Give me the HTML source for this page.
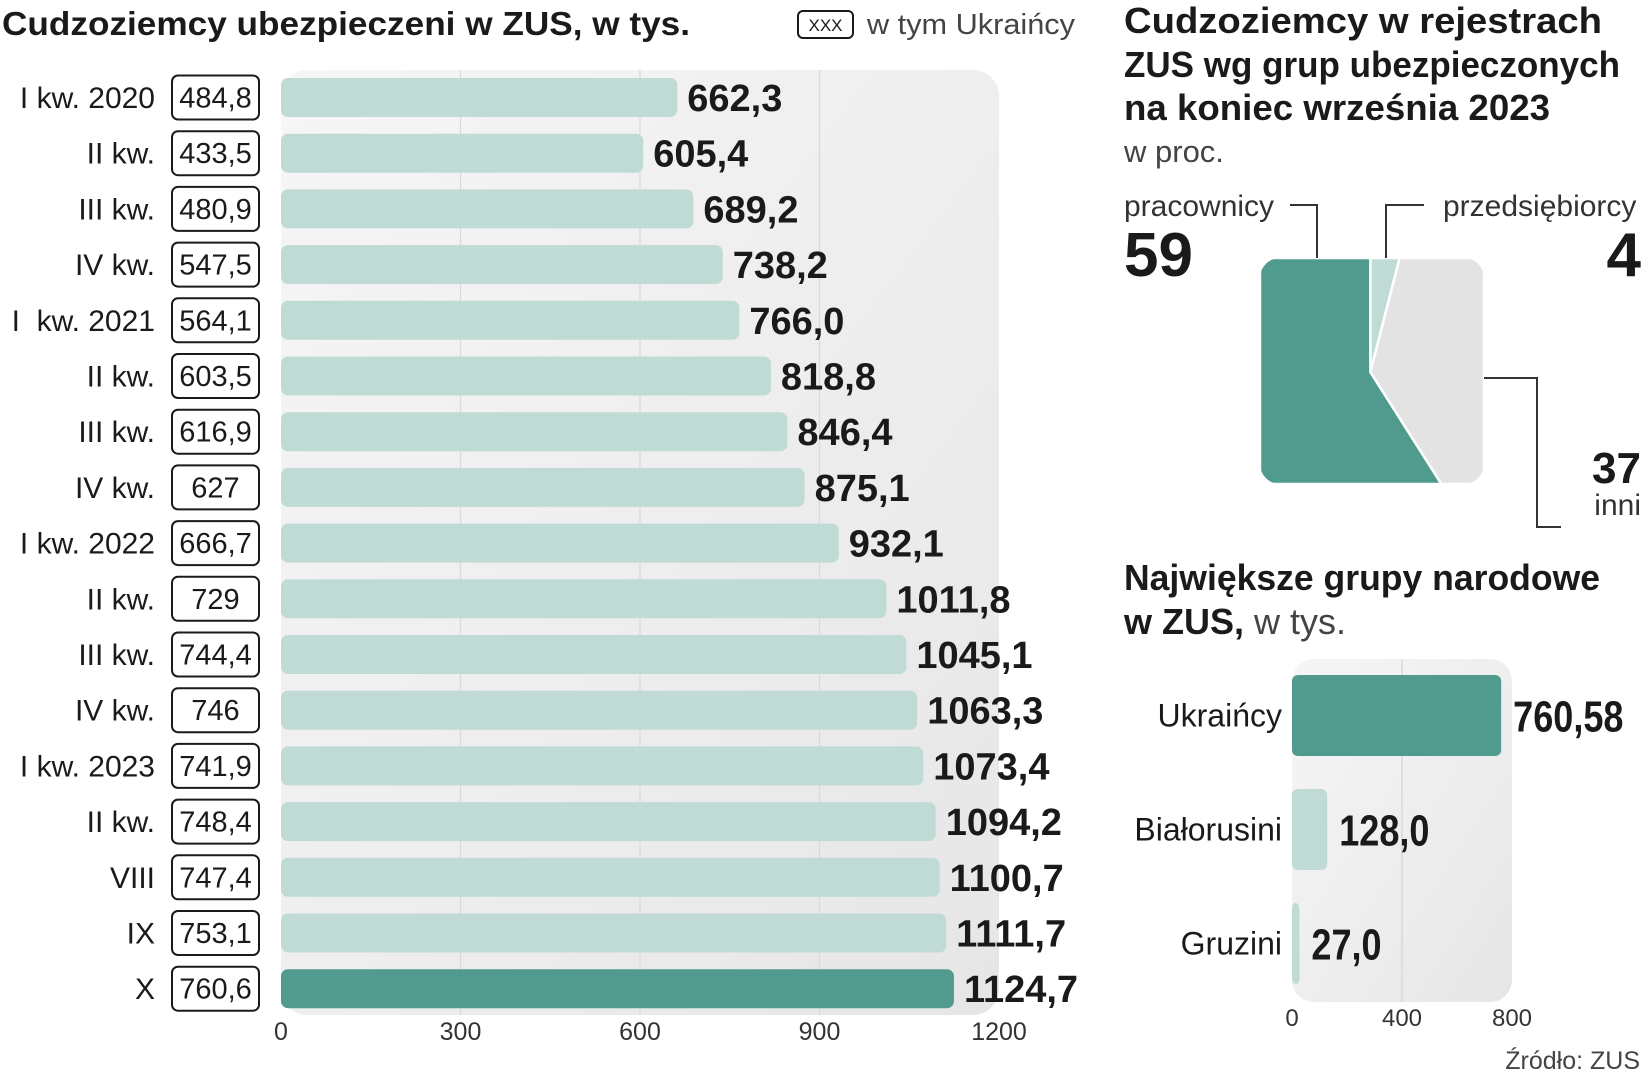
<!DOCTYPE html>
<html><head><meta charset="utf-8">
<style>
html,body{margin:0;padding:0;background:#fff;}
svg{display:block;font-family:"Liberation Sans Narrow","Liberation Sans",sans-serif;}
</style></head>
<body>
<svg id="chart" width="1641" height="1080" viewBox="0 0 1641 1080" xmlns="http://www.w3.org/2000/svg">
<defs>
<linearGradient id="pg" x1="0" y1="0" x2="1" y2="1">
<stop offset="0" stop-color="#f6f6f6"/><stop offset="1" stop-color="#e6e6e6"/>
</linearGradient>
</defs>
<text x="2" y="35" font-size="33" font-weight="bold" fill="#1a1a1a" textLength="688" lengthAdjust="spacingAndGlyphs">Cudzoziemcy ubezpieczeni w ZUS, w tys.</text>
<g>
<rect x="798" y="11" width="55" height="27" rx="5" fill="none" stroke="#1a1a1a" stroke-width="2"/>
<text x="825.5" y="31" font-size="17" text-anchor="middle" fill="#1a1a1a">XXX</text>
<text x="867" y="34" font-size="29" fill="#444" textLength="208" lengthAdjust="spacingAndGlyphs">w tym Ukraińcy</text>
</g>
<rect x="281" y="70" width="718" height="945" rx="26" fill="url(#pg)"/>
<g id="leftGrid"></g>
<g id="leftBars"></g>

<text x="1124" y="33" font-size="36" font-weight="bold" fill="#1a1a1a" textLength="478" lengthAdjust="spacingAndGlyphs">Cudzoziemcy  w rejestrach</text>
<text x="1124" y="77" font-size="36" font-weight="bold" fill="#1a1a1a" textLength="496" lengthAdjust="spacingAndGlyphs">ZUS wg grup ubezpieczonych</text>
<text x="1124" y="120" font-size="36" font-weight="bold" fill="#1a1a1a" textLength="426" lengthAdjust="spacingAndGlyphs">na koniec września 2023</text>
<text x="1124" y="162" font-size="31" fill="#444">w proc.</text>

<g id="share"></g>

<text x="1124" y="590" font-size="36" font-weight="bold" fill="#1a1a1a" textLength="476" lengthAdjust="spacingAndGlyphs">Największe grupy narodowe</text>
<text x="1124" y="634" font-size="36" fill="#1a1a1a"><tspan font-weight="bold">w ZUS,</tspan><tspan fill="#444"> w tys.</tspan></text>
<rect x="1292" y="659" width="220" height="343" rx="22" fill="url(#pg)"/>
<g id="natBars"></g>
<text x="1640" y="1069" font-size="25" fill="#444" text-anchor="end">Źródło: ZUS</text>
</svg>
<script>
const NS="http://www.w3.org/2000/svg";
const periods=["I kw. 2020","II kw.","III kw.","IV kw.","I  kw. 2021","II kw.","III kw.","IV kw.","I kw. 2022","II kw.","III kw.","IV kw.","I kw. 2023","II kw.","VIII","IX","X"];
const totals=[662.3,605.4,689.2,738.2,766.0,818.8,846.4,875.1,932.1,1011.8,1045.1,1063.3,1073.4,1094.2,1100.7,1111.7,1124.7];
const ukrainians=["484,8","433,5","480,9","547,5","564,1","603,5","616,9","627","666,7","729","744,4","746","741,9","748,4","747,4","753,1","760,6"];
const leftTicks=[0,300,600,900,1200];
const shareLabels=["pracownicy","przedsiębiorcy","inni"];
const shareValues=[59,4,37];
const nations=["Ukraińcy","Białorusini","Gruzini"];
const nationValues=[760.58,128.0,27.0];
const nationLabels=["760,58","128,0","27,0"];
const nationTicks=[0,400,800];

function mk(tag,attrs,parent,txt){const e=document.createElementNS(NS,tag);for(const k in attrs)e.setAttribute(k,attrs[k]);if(txt!==undefined)e.textContent=txt;parent.appendChild(e);return e;}
const fmt=v=>v.toFixed(1).replace('.',',');

// left chart
const lx=v=>281+v*(718/1200);
const ly=i=>97.5+i*55.7;
const lg=document.getElementById('leftGrid'), lb=document.getElementById('leftBars');
leftTicks.forEach(t=>{
  if(t>0&&t<1200){const g=mk('line',{x1:lx(t),x2:lx(t),y1:70,y2:1015,stroke:'#d9d9d9','stroke-width':1.2},lg);
  
  }
  const tl=mk('text',{x:lx(t),y:1040,'font-size':25,'text-anchor':'middle',fill:'#333'},lg,String(t));
  
  
});
periods.forEach((p,i)=>{
  const y=ly(i);
  const lab=mk('text',{x:155,y:y+10.5,'font-size':30,'text-anchor':'end',fill:'#1a1a1a'},lb,p);
  lab.setAttribute('style','white-space:pre');
  
  
  const bx=mk('rect',{x:172,y:y-22,width:87,height:44,rx:6,fill:'#fff',stroke:'#1a1a1a','stroke-width':2},lb);
  
  
  const bt=mk('text',{x:215.5,y:y+10,'font-size':29,'text-anchor':'middle',fill:'#1a1a1a'},lb,ukrainians[i]);
  
  
  const last=i===periods.length-1;
  const r=mk('rect',{x:lx(0),y:y-19.5,width:lx(totals[i])-lx(0),height:39,rx:7,fill:last?'#509b8e':'#c0dbd5'},lb);
  
  
  const vt=mk('text',{x:lx(totals[i])+10,y:y+13.5,'font-size':38,'font-weight':'bold',fill:'#1a1a1a'},lb,fmt(totals[i]));
  
  
});

// share chart (rounded square split)
const sh=document.getElementById('share');
const R={x:1260,y:258,w:224,h:226};
const clip=mk('clipPath',{id:'sqclip'},sh);
mk('rect',{x:R.x,y:R.y,width:R.w,height:R.h,rx:20},clip);
const sg=mk('g',{'clip-path':'url(#sqclip)'},sh);
const total=shareValues.reduce((a,b)=>a+b,0);
const cx=R.x+R.w/2.03, cy=R.y+R.h*0.505;
function edgePt(frac){const a=-Math.PI/2+frac*2*Math.PI;const dx=Math.cos(a),dy=Math.sin(a);
  const t=Math.min((dx>0?(R.x+R.w-cx)/dx:dx<0?(R.x-cx)/dx:Infinity),(dy>0?(R.y+R.h-cy)/dy:dy<0?(R.y-cy)/dy:Infinity));
  return [cx+dx*t,cy+dy*t];}
const colors=['#509b8e','#c0dbd5','#e3e3e4'];
const order=[1,2,0];
let acc=0;
order.forEach(k=>{
  const f0=acc/total; acc+=shareValues[k]; const f1=acc/total;
  let pts=[[cx,cy]];
  for(let s=0;s<=60;s++){pts.push(edgePt(f0+(f1-f0)*s/60));}
  const p=mk('polygon',{points:pts.map(q=>q.join(',')).join(' '),fill:colors[k],stroke:'#fff','stroke-width':2.5},sg);
  
  
});
const lines=[[[1290,205],[1317,205],[1317,258]],[[1424,205],[1386,205],[1386,258]],[[1484,378],[1537,378],[1537,527],[1561,527]]];
lines.forEach((l,i)=>{const pl=mk('polyline',{points:l.map(q=>q.join(',')).join(' '),fill:'none',stroke:'#333','stroke-width':2},sh);
  
  });
const st=[
 [1124,216,30,'normal','start',shareLabels[0]],[1124,276,62,'bold','start',String(shareValues[0])],
 [1443,216,30,'normal','start',shareLabels[1]],[1641,276,62,'bold','end',String(shareValues[1])],
 [1641,483,44,'bold','end',String(shareValues[2])],[1641,515,30,'normal','end',shareLabels[2]]];
st.forEach(s=>{const t=mk('text',{x:s[0],y:s[1],'font-size':s[2],'font-weight':s[3],'text-anchor':s[4],fill:s[3]==='bold'?'#1a1a1a':'#333'},sh,s[5]);
  
  });

// nations chart
const nx=v=>1292+v*(220/800);
const ny=i=>715.5+i*114;
const nb=document.getElementById('natBars');
nationTicks.forEach(t=>{
  if(t>0&&t<800){const g=mk('line',{x1:nx(t),x2:nx(t),y1:659,y2:1002,stroke:'#d4d4d4','stroke-width':1.2},nb);
  
  }
  const tl=mk('text',{x:nx(t),y:1026,'font-size':24,'text-anchor':'middle',fill:'#333'},nb,String(t));
  
  
});
nations.forEach((n,i)=>{
  const y=ny(i);
  const l=mk('text',{x:1282,y:y+11,'font-size':32,'text-anchor':'end',fill:'#1a1a1a'},nb,n);
  
  
  const r=mk('rect',{x:nx(0),y:y-40.5,width:Math.max(nx(nationValues[i])-nx(0),7),height:81,rx:6,fill:i===0?'#509b8e':'#c0dbd5'},nb);
  
  
  const v=mk('text',{x:0,y:0,'font-size':44,'font-weight':'bold',fill:'#1a1a1a',transform:'translate('+(nx(nationValues[i])+12)+','+(y+16)+') scale(0.82,1)'},nb,nationLabels[i]);
  
  
});
</script>
</body></html>
